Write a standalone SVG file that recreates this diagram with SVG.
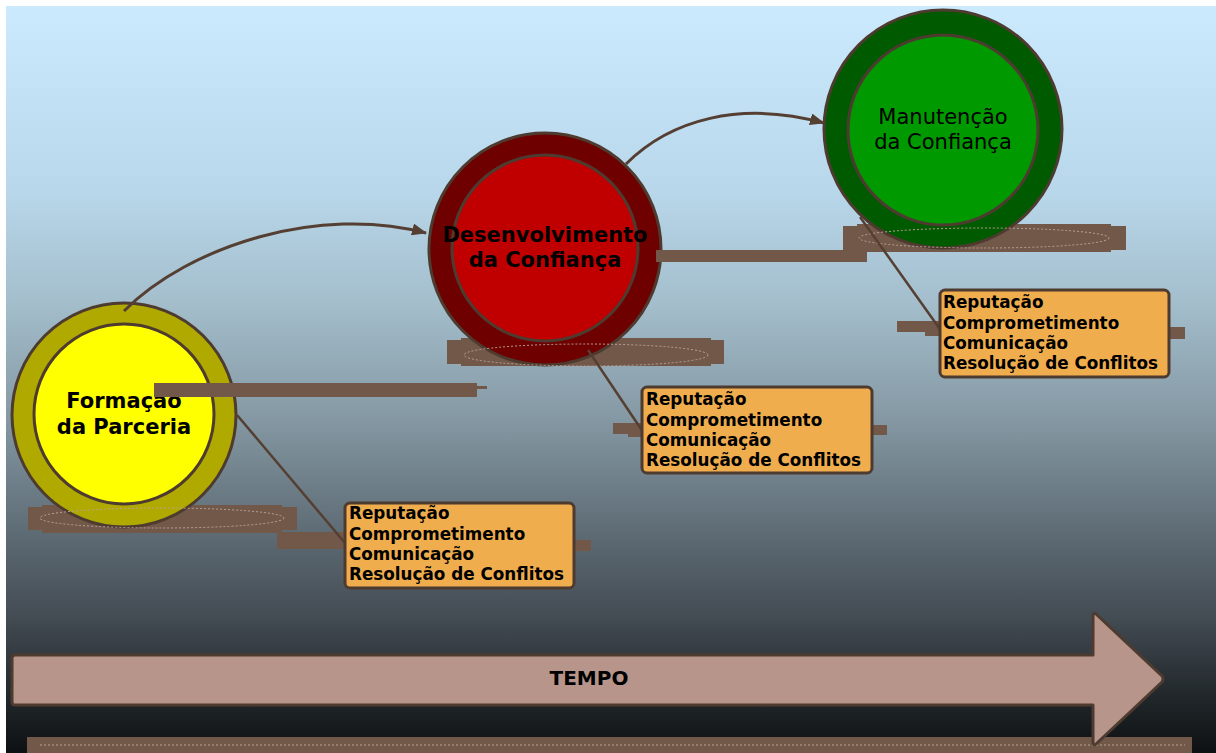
<svg xmlns="http://www.w3.org/2000/svg" width="1216" height="753" viewBox="0 0 1216 753">
  <defs>
    <linearGradient id="bg" x1="0" y1="6" x2="0" y2="753" gradientUnits="userSpaceOnUse">
      <stop offset="0" stop-color="#cceafd"/>
      <stop offset="0.25" stop-color="#b8d7ea"/>
      <stop offset="0.4" stop-color="#a3bdcb"/>
      <stop offset="0.55" stop-color="#8599a4"/>
      <stop offset="0.7" stop-color="#5f6d76"/>
      <stop offset="0.82" stop-color="#434b53"/>
      <stop offset="0.92" stop-color="#22282c"/>
      <stop offset="1" stop-color="#0e1113"/>
    </linearGradient>
    <marker id="head" markerUnits="userSpaceOnUse" markerWidth="16" markerHeight="12" refX="14" refY="6" orient="auto">
      <path d="M0,0 L15,6 L0,12 z" fill="#553f33"/>
    </marker>
    <style>
      .ring { stroke: #4e3b30; stroke-width: 3; }
      .smudge { fill: #725849; }
      .trace { fill: none; stroke: #b7a197; stroke-width: 1; stroke-dasharray: 2 2; }
      .lbl { font-family: "DejaVu Sans", Verdana, sans-serif; font-size: 21px; fill: #000; text-anchor: middle; }
      .b { font-weight: bold; }
      .box { fill: #f0ad4e; stroke: #4e3b30; stroke-width: 3; }
      .item { font-family: "DejaVu Sans", Verdana, sans-serif; font-size: 16.8px; font-weight: bold; fill: #000; }
      .link { fill: none; stroke: #553f33; stroke-width: 3; }
      .leader { fill: none; stroke: #553f33; stroke-width: 2.5; }
    </style>
  </defs>

  <!-- page background -->
  <rect x="0" y="0" width="1216" height="753" fill="#ffffff"/>
  <rect x="6" y="6" width="1210" height="747" fill="url(#bg)"/>

  <!-- ground shadows under the stages and box tabs -->
  <g id="shadows">
    <rect class="smudge" x="28" y="507" width="269" height="23"/>
    <rect class="smudge" x="42" y="505" width="240" height="28"/>
    <rect class="smudge" x="277" y="532" width="70" height="17"/>
    <rect class="smudge" x="572" y="540" width="19" height="11"/>
    <rect class="smudge" x="447" y="340" width="277" height="24"/>
    <rect class="smudge" x="461" y="338" width="250" height="28"/>
    <rect class="smudge" x="613" y="423" width="32" height="11"/>
    <rect class="smudge" x="628" y="428" width="16" height="9"/>
    <rect class="smudge" x="870" y="425" width="17" height="10"/>
    <rect class="smudge" x="843" y="226" width="283" height="24"/>
    <rect class="smudge" x="857" y="224" width="254" height="28"/>
    <rect class="smudge" x="897" y="321" width="45" height="11"/>
    <rect class="smudge" x="925" y="326" width="17" height="10"/>
    <rect class="smudge" x="1167" y="327" width="18" height="12"/>
    <rect class="smudge" x="27" y="737" width="1165" height="16"/>
  </g>

  <!-- stage 1 -->
  <g id="node-formacao">
    <circle class="ring" cx="124" cy="415" r="112" fill="#b0aa00"/>
    <circle class="ring" cx="124" cy="414" r="90" fill="#ffff00"/>
    <text class="lbl b" x="124" y="408">Formação</text>
    <text class="lbl b" x="124" y="434">da Parceria</text>
  </g>

  <!-- stage 2 -->
  <g id="node-desenvolvimento">
    <circle class="ring" cx="545" cy="249" r="116" fill="#6e0000"/>
    <circle class="ring" cx="545" cy="248" r="93" fill="#c00000"/>
    <text class="lbl b" x="545" y="242">Desenvolvimento</text>
    <text class="lbl b" x="545" y="267">da Confiança</text>
  </g>

  <!-- stage 3 -->
  <g id="node-manutencao">
    <circle class="ring" cx="943" cy="129" r="119" fill="#005a00"/>
    <circle class="ring" cx="943" cy="130" r="95" fill="#009900"/>
    <text class="lbl" x="943" y="124">Manutenção</text>
    <text class="lbl" x="943" y="149">da Confiança</text>
  </g>

  <!-- faint dashed traces over the shadows -->
  <g id="traces">
    <ellipse class="trace" cx="162" cy="518" rx="122" ry="10"/>
    <ellipse class="trace" cx="586" cy="355" rx="122" ry="11"/>
    <ellipse class="trace" cx="984" cy="238" rx="125" ry="10"/>
    <line class="trace" x1="40" y1="745" x2="1185" y2="745"/>
  </g>

  <!-- horizontal bars crossing the stages -->
  <g id="bars">
    <rect class="smudge" x="154" y="383" width="323" height="14"/>
    <rect class="smudge" x="477" y="386" width="10" height="3"/>
    <rect class="smudge" x="656" y="250" width="211" height="12"/>
  </g>

  <!-- connectors -->
  <g id="connectors">
    <path class="link" d="M124,311 C190,245 320,205 426,233" marker-end="url(#head)"/>
    <path class="link" d="M626,164 C670,120 740,100 824,123" marker-end="url(#head)"/>
    <line class="leader" x1="237" y1="415" x2="345" y2="543"/>
    <line class="leader" x1="588" y1="350" x2="643" y2="432"/>
    <line class="leader" x1="860" y1="217" x2="942" y2="332"/>
  </g>

  <!-- factor boxes -->
  <g id="box-1">
    <rect class="box" x="345" y="503" width="229" height="85" rx="5"/>
    <text class="item" x="349" y="519">Reputação</text>
    <text class="item" x="349" y="540">Comprometimento</text>
    <text class="item" x="349" y="560">Comunicação</text>
    <text class="item" x="349" y="580">Resolução de Conflitos</text>
  </g>
  <g id="box-2">
    <rect class="box" x="642" y="387" width="230" height="86" rx="5"/>
    <text class="item" x="646" y="405">Reputação</text>
    <text class="item" x="646" y="426">Comprometimento</text>
    <text class="item" x="646" y="446">Comunicação</text>
    <text class="item" x="646" y="466">Resolução de Conflitos</text>
  </g>
  <g id="box-3">
    <rect class="box" x="940" y="290" width="229" height="87" rx="5"/>
    <text class="item" x="943" y="308">Reputação</text>
    <text class="item" x="943" y="329">Comprometimento</text>
    <text class="item" x="943" y="349">Comunicação</text>
    <text class="item" x="943" y="369">Resolução de Conflitos</text>
  </g>

  <!-- time arrow -->
  <g id="time-arrow">
    <path d="M15,655 L1093,655 L1093,615 Q1094,612 1096,614 L1162,676 Q1164,679 1162,682 L1096,744 Q1094,746 1093,743 L1093,705 L15,705 Q12,705 12,702 L12,658 Q12,655 15,655 z" fill="#b8958a" stroke="#4e3b30" stroke-width="3" stroke-linejoin="round"/>
    <text x="589" y="685" font-family="'DejaVu Sans', Verdana, sans-serif" font-size="20" font-weight="bold" text-anchor="middle" fill="#000">TEMPO</text>
  </g>
</svg>
